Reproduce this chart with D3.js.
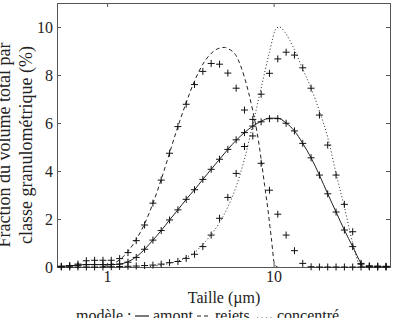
<!DOCTYPE html>
<html>
<head>
<meta charset="utf-8">
<script src="https://cdn.jsdelivr.net/npm/d3@7"></script>
<style>
  body { margin: 0; background: #fff; }
  svg text { font-family: "Liberation Serif", "Times New Roman", serif; fill: #222; }
</style>
</head>
<body>
<div id="chart"></div>
<script>
// size classes (µm), one per measured point
var sizes = [0.531, 0.596, 0.668, 0.750, 0.841, 0.944, 1.059, 1.189, 1.334, 1.496,
             1.679, 1.884, 2.113, 2.371, 2.661, 2.985, 3.350, 3.758, 4.217, 4.732,
             5.309, 5.957, 6.683, 7.499, 8.414, 9.441, 10.59, 11.89, 13.34, 14.96,
             16.79, 18.84, 21.13, 23.71, 26.61, 29.85, 33.50, 37.58, 42.17, 47.32];

// measured points (%)
var amont = [0.02, 0.04, 0.07, 0.1, 0.1, 0.1, 0.1, 0.12, 0.2, 0.4,
             0.74, 1.12, 1.52, 1.96, 2.38, 2.82, 3.22, 3.65, 4.07, 4.49,
             4.9, 5.3, 5.6, 5.87, 6.05, 6.18, 6.18, 5.99, 5.67, 5.15,
             4.55, 3.83, 3.05, 2.29, 1.54, 0.85, 0.15, 0.03, 0.01, 0.01];
var rejets = [0.03, 0.06, 0.12, 0.26, 0.28, 0.28, 0.28, 0.35, 0.6, 1.1,
              1.75, 2.66, 3.62, 4.74, 5.85, 6.78, 7.6, 8.15, 8.48, 8.45,
              8.08, 7.45, 6.54, 5.46, 4.32, 3.2, 2.2, 1.33, 0.68, 0.15,
              0.01, 0, 0, 0, 0, 0, 0, 0, 0, 0];
var concentre = [0, 0, 0, 0, 0, 0, 0.01, 0.02, 0.03, 0.04,
                 0.06, 0.08, 0.12, 0.18, 0.23, 0.36, 0.53, 0.85, 1.33, 2.03,
                 2.9, 3.9, 5.02, 6.15, 7.2, 8.07, 8.67, 8.95, 8.83, 8.3,
                 7.45, 6.33, 5.08, 3.83, 2.61, 1.47, 0.12, 0.05, 0.04, 0.03];

// model curves
var modAmontX = [0.5, 0.531, 0.596, 0.668, 0.750, 0.841, 0.944, 1.059, 1.189, 1.334, 1.496,
                 1.679, 1.884, 2.113, 2.371, 2.661, 2.985, 3.350, 3.758, 4.217, 4.732,
                 5.309, 5.957, 6.683, 7.499, 8.414, 9.441, 10.59, 11.89, 13.34, 14.96,
                 16.79, 18.84, 21.13, 23.71, 26.61, 29.85, 33.50, 34.6, 50];
var modAmontY = [0.02, 0.03, 0.05, 0.08, 0.1, 0.1, 0.1, 0.1, 0.12, 0.22, 0.42,
                 0.74, 1.12, 1.52, 1.96, 2.38, 2.82, 3.22, 3.65, 4.07, 4.49,
                 4.9, 5.28, 5.6, 5.87, 6.07, 6.2, 6.2, 6.0, 5.67, 5.15,
                 4.55, 3.83, 3.05, 2.29, 1.54, 0.85, 0.15, 0, 0];
var modRejetsX = [0.944, 1.059, 1.189, 1.334, 1.496, 1.679, 1.884, 2.113, 2.371, 2.661,
                  2.985, 3.350, 3.758, 4.217, 4.732, 5.09, 5.309, 5.957, 6.683, 7.499,
                  8.05, 8.414, 8.83, 9.24, 9.69, 10.14, 10.59];
var modRejetsY = [0.02, 0.1, 0.3, 0.65, 1.15, 1.8, 2.65, 3.65, 4.75, 5.85,
                  6.85, 7.75, 8.45, 8.9, 9.12, 9.15, 9.1, 8.8, 7.9, 6.5,
                  5.4, 4.5, 3.4, 2.4, 1.2, 0.1, 0];
var modConcX = [1.81, 2.113, 2.371, 2.661, 2.985, 3.350, 3.758, 4.217, 4.732, 5.309,
                5.957, 6.683, 7.499, 8.414, 9.441, 10.38, 10.86, 11.63, 13.34, 14.96,
                16.79, 18.84, 21.13, 23.71, 26.61, 29.85, 32.7, 34.0];
var modConcY = [0.02, 0.08, 0.15, 0.25, 0.4, 0.6, 0.95, 1.35, 1.85, 2.5,
                3.35, 4.5, 5.95, 7.45, 8.95, 9.95, 10.0, 9.8, 9.05, 8.25,
                7.45, 6.5, 5.4, 3.9, 2.5, 1.0, 0.1, 0];

var yTicks = [0, 2, 4, 6, 8, 10];
var xTicks = [1, 10];

var width = 395, height = 318;
var margin = {top: 3, right: 5, bottom: 51, left: 57};
var w = width - margin.left - margin.right,
    h = height - margin.top - margin.bottom;

var svg = d3.select("#chart").append("svg")
    .attr("width", width)
    .attr("height", height);

var x = d3.scaleLog().domain([0.5, 50]).range([0, w]);
var y = d3.scaleLinear().domain([0, 11]).range([h, 0]);

var g = svg.append("g")
    .attr("transform", "translate(" + margin.left + "," + margin.top + ")");

g.append("clipPath").attr("id", "clip")
  .append("rect").attr("width", w).attr("height", h);

// axes, ticks inward
g.append("g")
  .attr("transform", "translate(0," + h + ")")
  .call(d3.axisBottom(x).tickValues(xTicks).tickSize(-4).tickPadding(4).tickFormat(d3.format("d")));
g.append("g")
  .call(d3.axisTop(x).tickValues(xTicks).tickSize(-4).tickFormat(""));
g.append("g")
  .call(d3.axisLeft(y).tickValues(yTicks).tickSize(-4).tickPadding(4));
g.append("g")
  .attr("transform", "translate(" + w + ",0)")
  .call(d3.axisRight(y).tickValues(yTicks).tickSize(-4).tickFormat(""));

g.selectAll(".domain").attr("stroke", "#555");
g.selectAll(".tick line").attr("stroke", "#555");
g.selectAll(".tick text")
  .attr("font-family", "Liberation Serif")
  .style("font-size", "16px")
  .attr("fill", "#222");

// model lines
var line = d3.line()
  .x(function(d) { return x(d[0]); })
  .y(function(d) { return y(d[1]); })
  .curve(d3.curveMonotoneX);

var models = [
  {xs: modAmontX, ys: modAmontY, dash: null},
  {xs: modRejetsX, ys: modRejetsY, dash: "4,3"},
  {xs: modConcX, ys: modConcY, dash: "1,2.3"}
];
var lines = g.append("g").attr("clip-path", "url(#clip)");
models.forEach(function(m) {
  lines.append("path")
    .datum(m.xs.map(function(v, i) { return [v, m.ys[i]]; }))
    .attr("d", line)
    .attr("fill", "none")
    .attr("stroke", "#222")
    .attr("stroke-width", 1)
    .attr("stroke-dasharray", m.dash);
});

// measured points as "+"
var pts = g.append("g");
[amont, rejets, concentre].forEach(function(serie) {
  pts.selectAll(null)
    .data(sizes.map(function(s, i) { return [s, serie[i]]; }))
    .enter().append("path")
    .attr("transform", function(d) { return "translate(" + x(d[0]) + "," + y(d[1]) + ")"; })
    .attr("d", "M-3.5,0H3.5M0,-3.5V3.5")
    .attr("stroke", "#111")
    .attr("stroke-width", 1);
});

// axis titles
svg.append("text")
  .attr("x", 224).attr("y", 303)
  .attr("text-anchor", "middle")
  .attr("font-size", "16px")
  .text("Taille (µm)");

var yt = svg.append("text")
  .attr("transform", "translate(0,145) rotate(-90)")
  .attr("text-anchor", "middle")
  .attr("font-size", "18px");
yt.append("tspan").attr("x", 0).attr("y", 9.5).text("Fraction du volume total par");
yt.append("tspan").attr("x", 0).attr("y", 32).text("classe granulométrique (%)");

// legend line under the axis title
var ly = 321;
var leg = svg.append("g").attr("font-size", "16px");
leg.append("text").attr("x", 76).attr("y", ly).text("modèle :");
leg.append("line").attr("x1", 135).attr("x2", 149).attr("y1", ly - 5).attr("y2", ly - 5)
  .attr("stroke", "#222").attr("stroke-width", 1.2);
leg.append("text").attr("x", 153).attr("y", ly).text("amont");
leg.append("line").attr("x1", 197).attr("x2", 209).attr("y1", ly - 5).attr("y2", ly - 5)
  .attr("stroke", "#222").attr("stroke-width", 1.2).attr("stroke-dasharray", "4,3");
leg.append("text").attr("x", 215).attr("y", ly).text("rejets");
leg.append("line").attr("x1", 257).attr("x2", 272).attr("y1", ly - 3).attr("y2", ly - 3)
  .attr("stroke", "#222").attr("stroke-width", 1.2).attr("stroke-dasharray", "1,3.5");
leg.append("text").attr("x", 277).attr("y", ly).text("concentré");
</script>
</body>
</html>
